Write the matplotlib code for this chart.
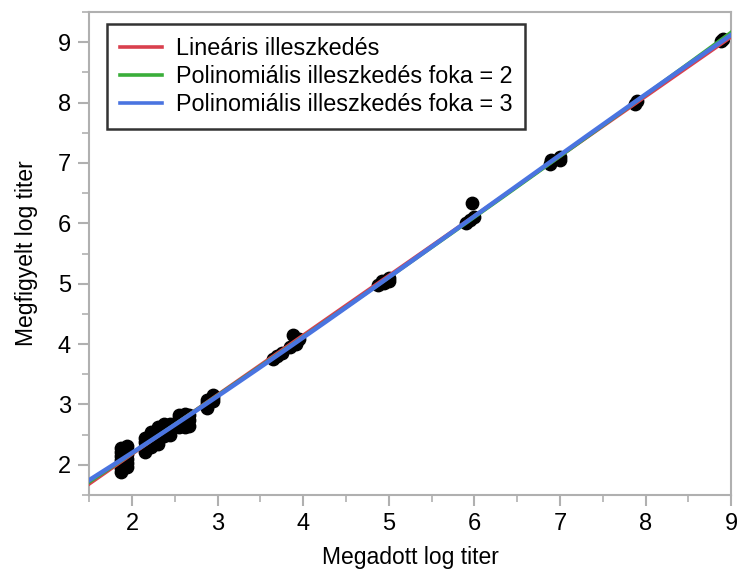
import numpy as np
import matplotlib
matplotlib.use('Agg')
import matplotlib.pyplot as plt

given_x = [1.87, 1.87, 1.87, 1.87, 1.87, 1.87, 1.87,
           1.94, 1.94, 1.94, 1.94, 1.94, 1.94,
           2.15, 2.15, 2.15, 2.15,
           2.22, 2.22, 2.22, 2.22,
           2.3, 2.3, 2.3, 2.3,
           2.38, 2.38, 2.38, 2.38,
           2.45, 2.45, 2.45,
           2.55, 2.55, 2.55, 2.55,
           2.62, 2.62, 2.62, 2.62,
           2.67, 2.67, 2.67,
           2.88, 2.88, 2.88,
           2.95, 2.95, 2.95,
           3.65, 3.7, 3.75, 3.85, 3.88, 3.92, 3.95,
           4.88, 4.92, 4.95, 5.0, 5.0,
           5.9, 5.95, 5.97, 6.0,
           6.88, 6.9, 7.0, 7.0,
           7.88, 7.9,
           8.88, 8.9]
observed_y = [1.88, 1.95, 2.02, 2.08, 2.15, 2.22, 2.28,
              1.97, 2.03, 2.1, 2.18, 2.25, 2.32,
              2.22, 2.3, 2.38, 2.45,
              2.3, 2.38, 2.45, 2.55,
              2.35, 2.45, 2.55, 2.62,
              2.48, 2.55, 2.62, 2.68,
              2.5, 2.6, 2.68,
              2.62, 2.7, 2.78, 2.82,
              2.62, 2.7, 2.78, 2.85,
              2.65, 2.75, 2.82,
              2.95, 3.02, 3.08,
              3.05, 3.1, 3.15,
              3.75, 3.8, 3.85, 3.95, 4.15, 4.0, 4.08,
              4.98, 5.05, 5.02, 5.1, 5.05,
              6.0, 6.05, 6.33, 6.1,
              6.98, 7.05, 7.05, 7.1,
              7.97, 8.03,
              9.02, 9.05]

fit_labels = ['Lineáris illeszkedés',
              'Polinomiális illeszkedés foka = 2',
              'Polinomiális illeszkedés foka = 3']
fit_degrees = [1, 2, 3]
fit_colors = ['#d9404e', '#3aae3a', '#4a74e0']
fit_widths = [2.4, 2.6, 3.2]

plt.rcParams['font.family'] = ['Liberation Sans Narrow', 'Liberation Sans', 'DejaVu Sans']

fig, ax = plt.subplots(figsize=(7.37, 5.71), dpi=100)
fig.subplots_adjust(left=0.121, right=0.992, top=0.979, bottom=0.133)

ax.scatter(given_x, observed_y, s=80, color='black', zorder=2)

xs = np.linspace(1.5, 9, 200)
for deg, lab, col, lw in zip(fit_degrees, fit_labels, fit_colors, fit_widths):
    coefs = np.polyfit(given_x, observed_y, deg)
    ax.plot(xs, np.polyval(coefs, xs), color=col, lw=lw, label=lab, zorder=3)

ax.set_xlim(1.5, 9)
ax.set_ylim(1.5, 9.5)
ax.set_xticks(range(2, 10))
ax.set_yticks(range(2, 10))
ax.set_xticks(np.arange(1.5, 9.01, 0.5), minor=True)
ax.set_yticks(np.arange(1.5, 9.51, 0.5), minor=True)

for sp in ax.spines.values():
    sp.set_color('#b0b0b0')
    sp.set_linewidth(1.5)
ax.tick_params(which='major', length=8, width=1.5, color='#b0b0b0', labelsize=17, pad=5)
ax.tick_params(which='minor', length=5, width=1.2, color='#b0b0b0')

ax.set_xlabel('Megadott log titer', fontsize=16.5, labelpad=8)
ax.set_ylabel('Megfigyelt log titer', fontsize=16.5, labelpad=14)

leg = ax.legend(loc='upper left', bbox_to_anchor=(0.028, 0.975), borderaxespad=0,
                fontsize=16.8, frameon=True, fancybox=False, handlelength=1.8,
                borderpad=0.55, labelspacing=0.22, handletextpad=0.6)
leg.get_frame().set_edgecolor('black')
leg.get_frame().set_linewidth(1.8)
for h in leg.legend_handles:
    h.set_linewidth(2.6)

fig.savefig('out.png', dpi=100)
